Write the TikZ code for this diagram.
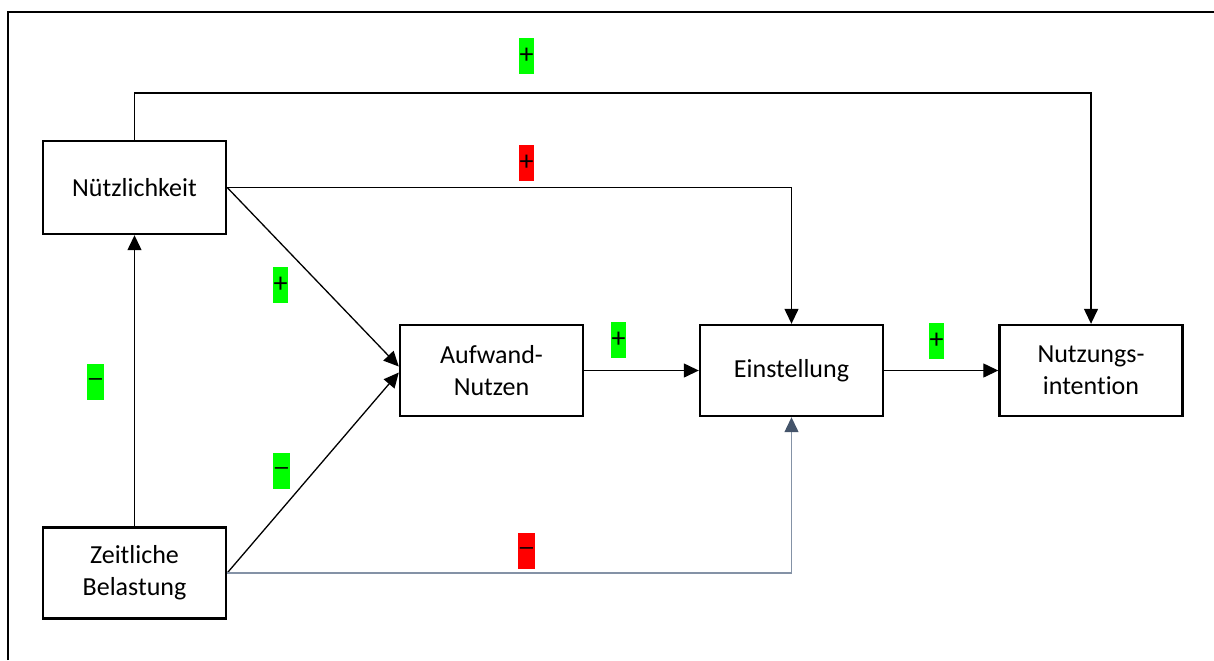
\documentclass[tikz,border=0pt]{standalone}
\usepackage{fontspec}
\setmainfont{Carlito}[Ligatures=NoCommon]
\usetikzlibrary{arrows.meta}
\definecolor{slateline}{RGB}{132,146,166}
\definecolor{slatehead}{RGB}{68,84,106}
\begin{document}
\begin{tikzpicture}[x=0.5pt,y=-0.5pt,
		box/.style={draw,line width=1.2pt,minimum width=91.5pt,minimum height=45.5pt,align=center,inner sep=2pt,font=\fontsize{13}{16}\selectfont},
		link/.style={line width=0.65pt,-{Triangle[length=7.5pt,width=7pt]}},
		tag/.style={minimum width=7.5pt,minimum height=18pt,inner sep=0pt,font=\fontsize{14}{16}\selectfont},
		minus/.style={tag,font=\fontsize{9}{10}\bfseries},
		good/.style={fill=green},
		bad/.style={fill=red}]
		\useasboundingbox (0,0) rectangle (1214,660);
		\draw[line width=1.4pt] (8,660) -- (8,12) -- (1214,12);

		\node[box,minimum height=46.5pt] (nuetz) at (134.5,187.5) {Nützlichkeit};
		\node[box] (zeit) at (134.5,573) {Zeitliche\\Belastung};
		\node[box] (aufwand) at (491.5,370.5) {Aufwand-\\Nutzen};
		\node[box] (einst) at (791.5,370.5) {Einstellung};
		\node[box] (intent) at (1091,370.5) {Nutzungs-\\intention};
		\coordinate (top) at (0,93);

		\draw[link] (nuetz.north) -- (nuetz.north |- top) -| (intent.north);
		\draw[link] (nuetz.east) -| (einst.north);
		\draw[link] (nuetz.east) -- ([yshift=2pt]aufwand.west);
		\draw[link] (zeit.east) -- ([yshift=-1pt]aufwand.west);
		\draw[link,draw=slateline,-{Triangle[length=7.5pt,width=7pt,color=slatehead]}] (zeit.east) -| (einst.south);
		\draw[link] (zeit.north) -- (nuetz.south);
		\draw[link] (aufwand) -- (einst);
		\draw[link] (einst) -- (intent);

		\node[tag,good] (t1) at (526.5,56) {+};
		\node[tag,bad] (t2) at (526.5,163) {+};
		\node[tag,good] (t3) at (280.5,285) {+};
		\node[minus,good] (t4) at (281.5,471) {—};
		\node[minus,good] (t5) at (95.5,382) {—};
		\node[tag,good] (t6) at (618.5,340) {+};
		\node[tag,good] (t7) at (936.5,341) {+};
		\node[minus,bad] (t8) at (526.5,551) {—};
	\end{tikzpicture}
\end{document}
